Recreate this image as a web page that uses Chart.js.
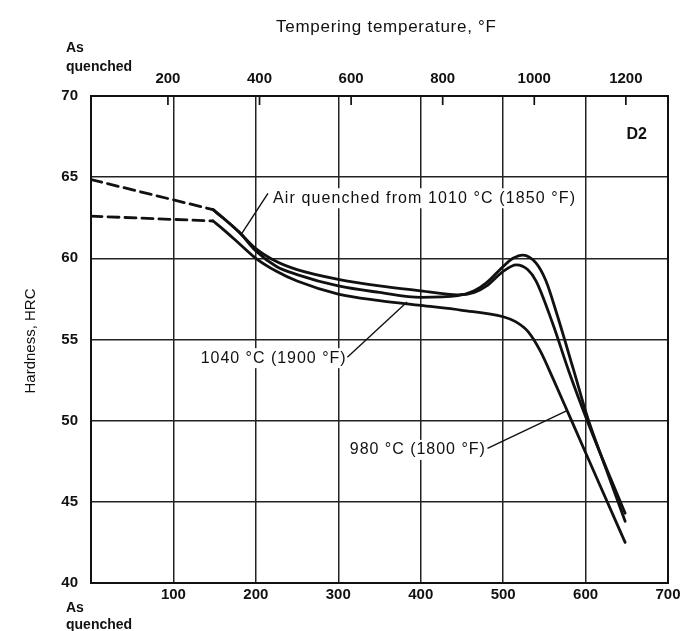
<!DOCTYPE html>
<html>
<head>
<meta charset="utf-8">
<script src="https://cdn.jsdelivr.net/npm/chart.js@4.4.0/dist/chart.umd.min.js"></script>
<style>
  html, body { margin: 0; padding: 0; background: #fff; }
</style>
</head>
<body>
<canvas id="graph" width="691" height="631"></canvas>
<script>
// tempering temperature in degC, hardness in HRC
var fTicks = [200, 400, 600, 800, 1000, 1200];

var dashTemps = [0, 148];
var dashUpper = [64.85, 63.0];
var dashLower = [62.6, 62.3];

var temps1010 = [148, 160, 180, 200, 225, 250, 300, 350, 400, 445, 465, 480, 500, 516, 530, 540, 560, 580, 602, 625, 648];
var hrc1010   = [63.0, 62.5, 61.6, 60.6, 59.8, 59.3, 58.7, 58.3, 58.0, 57.75, 57.9, 58.3, 59.2, 59.6, 59.3, 58.6, 56.0, 53.0, 50.0, 47.1, 44.3];

var temps1040 = [148, 160, 180, 200, 225, 250, 300, 350, 400, 445, 465, 480, 500, 512, 524, 540, 552, 565, 585, 603, 625, 648];
var hrc1040   = [63.0, 62.5, 61.6, 60.45, 59.5, 59.0, 58.3, 57.9, 57.6, 57.7, 58.0, 58.5, 59.5, 60.0, 60.2, 59.7, 58.6, 56.6, 53.2, 50.1, 47.0, 43.8];

var temps980 = [148, 160, 180, 200, 225, 250, 300, 350, 400, 450, 500, 515, 530, 545, 560, 583, 615, 648];
var hrc980   = [62.3, 61.8, 60.9, 60.0, 59.2, 58.6, 57.8, 57.4, 57.1, 56.8, 56.4, 56.1, 55.5, 54.3, 52.65, 50.0, 46.3, 42.5];

var ink = '#111';
var baseFont = '"Liberation Sans", Arial, sans-serif';

function pts(xs, ys) {
    return xs.map(function (x, i) { return { x: x, y: ys[i] }; });
}

// curve labels: anchor in data units (degC, HRC), leader from -> to
var curveLabels = [
    { text: 'Air quenched from 1010 \u00B0C (1850 \u00B0F)', left: 220.8, y: 63.7, width: 302, from: [214.7, 64.0], to: [183.2, 61.56] },
    { text: '1040 \u00B0C (1900 \u00B0F)', left: 133, y: 53.85, width: 145, from: [311, 53.9], to: [383.4, 57.31] },
    { text: '980 \u00B0C (1800 \u00B0F)', left: 314, y: 48.2, width: 135, from: [481, 48.3], to: [577.5, 50.62] }
];

function spacedText(ctx, text, x, cy, font, targetW) {
    ctx.font = font;
    ctx.letterSpacing = '0px';
    var w0 = ctx.measureText(text).width;
    var sp = Math.max(0, (targetW - w0) / (text.length - 1));
    ctx.letterSpacing = sp + 'px';
    ctx.textAlign = 'left';
    ctx.textBaseline = 'middle';
    ctx.fillText(text, x, cy);
    ctx.letterSpacing = '0px';
}

var decor = {
    id: 'decor',
    beforeDraw: function (chart) {
        var ctx = chart.ctx;
        ctx.save();
        ctx.fillStyle = '#fff';
        ctx.fillRect(0, 0, chart.width, chart.height);
        ctx.restore();
    },
    afterDatasetsDraw: function (chart) {
        var ctx = chart.ctx;
        var a = chart.chartArea;
        var x = chart.scales.x, y = chart.scales.y, xF = chart.scales.xF;
        ctx.save();

        // frame
        ctx.strokeStyle = ink;
        ctx.lineWidth = 2;
        ctx.strokeRect(a.left, a.top, a.right - a.left, a.bottom - a.top);

        // small inner ticks for the degF axis
        ctx.lineWidth = 1.7;
        fTicks.forEach(function (f) {
            var px = xF.getPixelForValue(f);
            ctx.beginPath();
            ctx.moveTo(px, a.top);
            ctx.lineTo(px, a.top + 9);
            ctx.stroke();
        });

        // curve labels on white boxes, with leader lines
        curveLabels.forEach(function (l) {
            var lx = x.getPixelForValue(l.left);
            var cy = y.getPixelForValue(l.y);
            ctx.fillStyle = '#fff';
            ctx.fillRect(lx - 3, cy - 10, l.width + 6, 20);
            ctx.fillStyle = ink;
            spacedText(ctx, l.text, lx, cy, '16px ' + baseFont, l.width);
            ctx.lineWidth = 1.4;
            ctx.beginPath();
            ctx.moveTo(x.getPixelForValue(l.from[0]), y.getPixelForValue(l.from[1]));
            ctx.lineTo(x.getPixelForValue(l.to[0]), y.getPixelForValue(l.to[1]));
            ctx.stroke();
        });

        // grade
        ctx.fillStyle = ink;
        ctx.font = 'bold 16px ' + baseFont;
        ctx.textAlign = 'center';
        ctx.textBaseline = 'middle';
        ctx.fillText('D2', x.getPixelForValue(662), y.getPixelForValue(67.6));

        // axis titles and "As quenched"
        spacedText(ctx, 'Tempering temperature, \u00B0F', 276, 27, '17px ' + baseFont, 220);

        ctx.font = 'bold 14px ' + baseFont;
        ctx.textAlign = 'left';
        ctx.fillText('As', 66, 48);
        ctx.fillText('quenched', 66, 67);
        ctx.fillText('As', 66, 608);
        ctx.fillText('quenched', 66, 625);

        ctx.translate(31, 341);
        ctx.rotate(-Math.PI / 2);
        ctx.font = '15px ' + baseFont;
        ctx.textAlign = 'center';
        ctx.fillText('Hardness, HRC', 0, 0);

        ctx.restore();
    }
};

var tickFont = { family: baseFont, size: 15, weight: 'bold' };
var gridStyle = { color: '#222', lineWidth: 1.5, drawTicks: false };

var chartCtx = document.getElementById('graph').getContext('2d');

var chart = new Chart(chartCtx, {
    type: 'line',
    data: {
        datasets: [
            { data: pts(dashTemps, dashUpper), borderDash: [11, 6], tension: 0 },
            { data: pts(dashTemps, dashLower), borderDash: [11, 6], tension: 0 },
            { data: pts(temps1010, hrc1010), cubicInterpolationMode: 'monotone' },
            { data: pts(temps1040, hrc1040), cubicInterpolationMode: 'monotone' },
            { data: pts(temps980, hrc980), cubicInterpolationMode: 'monotone' }
        ]
    },
    options: {
        responsive: false,
        devicePixelRatio: 1,
        animation: false,
        layout: { padding: { left: 0, right: 23, top: 0, bottom: 0 } },
        elements: {
            line: { borderColor: ink, borderWidth: 2.8, fill: false, borderCapStyle: 'round', borderJoinStyle: 'round' },
            point: { radius: 0 }
        },
        plugins: { legend: { display: false }, tooltip: { enabled: false } },
        scales: {
            x: {
                type: 'linear',
                position: 'bottom',
                min: 0,
                max: 700,
                grid: gridStyle,
                border: { display: false },
                ticks: {
                    stepSize: 100,
                    padding: 3,
                    color: ink,
                    font: tickFont,
                    maxRotation: 0,
                    autoSkip: false,
                    callback: function (v) { return v === 0 ? '' : String(v); }
                },
                afterFit: function (s) { s.height = 48; }
            },
            xF: {
                type: 'linear',
                position: 'top',
                min: 32,
                max: 700 * 1.8 + 32,
                grid: { drawOnChartArea: false, drawTicks: false },
                border: { display: false },
                ticks: {
                    padding: 8,
                    color: ink,
                    font: tickFont,
                    maxRotation: 0,
                    autoSkip: false,
                    callback: function (v) { return String(v); }
                },
                afterBuildTicks: function (s) {
                    s.ticks = fTicks.map(function (v) { return { value: v }; });
                },
                afterFit: function (s) { s.height = 96; }
            },
            y: {
                min: 40,
                max: 70,
                grid: gridStyle,
                border: { display: false },
                ticks: { stepSize: 5, padding: 13, color: ink, font: tickFont },
                afterFit: function (s) { s.width = 91; }
            }
        }
    },
    plugins: [decor]
});
</script>
</body>
</html>
